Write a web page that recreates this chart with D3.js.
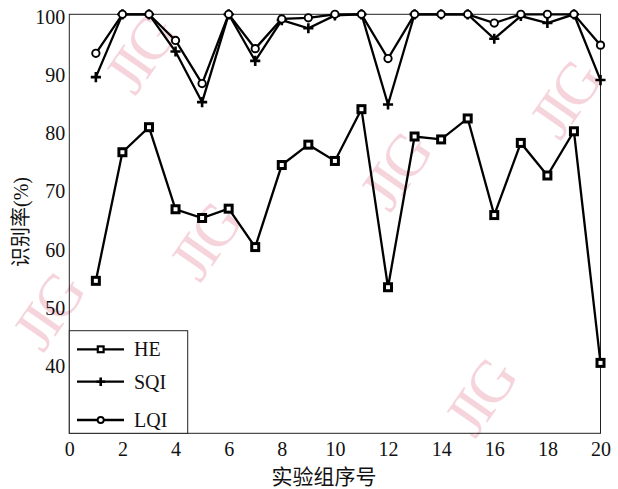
<!DOCTYPE html>
<html>
  <head>
    <meta charset="utf-8">
    <script src="https://d3js.org/d3.v7.min.js"></script>
    <title>识别率</title>
    <style>
      body { margin: 0; background: #fff; }
    </style>
  </head>
  <body>
    <div id="svg_id"></div>
  </body>
  <script>

    // DATA

    const groups = d3.range(1, 21);
    const he  = [54.2, 76.3, 80.6, 66.5, 65.0, 66.6, 60.0, 74.1, 77.6, 74.8,
                 83.7, 53.1, 79.0, 78.5, 82.1, 65.5, 77.9, 72.3, 79.9, 40.1];
    const sqi = [89.2, 100, 100, 93.6, 84.9, 100, 92.0, 99.0, 97.6, 99.8,
                 100, 84.5, 100, 100, 100, 95.8, 99.7, 98.5, 100, 88.7];
    const lqi = [93.3, 100, 100, 95.5, 88.1, 100, 94.1, 99.2, 99.4, 100,
                 100, 92.4, 100, 100, 100, 98.5, 100, 100, 100, 94.7];
    const seriesNames = ['HE', 'SQI', 'LQI'];
    const xTicks = d3.range(0, 21, 2);
    const yTicks = [40, 50, 60, 70, 80, 90, 100];

    // CONSTANTS

    const W = 618, H = 489;
    const margin = {top: 14.3, left: 69.3, bottom: 55.7, right: 17.5};
    const font = '"Liberation Serif", "Times New Roman", "Noto Sans CJK SC", serif';

    var svg = d3.select('div#svg_id')
	.append('svg')
	.attr('width', W)
	.attr('height', H)
	.style('font-family', font);

    var xscale = d3.scaleLinear()
	.domain([0, 20])
	.range([margin.left, W - margin.right]);

    var yscale = d3.scaleLinear()
	.domain([28, 100])
	.range([H - margin.bottom, margin.top]);

    // watermark
    var marks = [[140, 55], [395, 172], [205, 242], [565, 100], [48, 312], [480, 398]];
    svg.append('g').selectAll('text')
	.data(marks)
	.enter()
	.append('text')
	.attr('transform', d => 'translate(' + d[0] + ',' + d[1] + ') rotate(-55)')
	.attr('text-anchor', 'middle')
	.attr('dominant-baseline', 'central')
	.attr('font-size', 60)
	.attr('letter-spacing', -4)
	.attr('fill', '#f3c6d1')
	.attr('opacity', 0.75)
	.text('JIG');

    // frame
    svg.append('rect')
	.attr('x', margin.left)
	.attr('y', margin.top)
	.attr('width', xscale(20) - xscale(0))
	.attr('height', yscale(28) - yscale(100))
	.attr('fill', 'none')
	.attr('stroke', '#222')
	.attr('stroke-width', 1);

    // axes, labels only
    var xAxis = svg.append('g')
	.attr('transform', 'translate(0,' + (H - margin.bottom) + ')')
	.call(d3.axisBottom(xscale).tickValues(xTicks).tickSize(0).tickPadding(8));
    var yAxis = svg.append('g')
	.attr('transform', 'translate(' + margin.left + ',0)')
	.call(d3.axisLeft(yscale).tickValues(yTicks).tickSize(0).tickPadding(4));
    [xAxis, yAxis].forEach(function(a) {
	a.select('.domain').remove();
	a.selectAll('text')
	    .attr('font-family', font)
	    .attr('font-size', 20)
	    .attr('fill', '#111');
    });
    yAxis.selectAll('text').attr('dy', '0.45em');
    xAxis.selectAll('text').attr('dy', '0.75em');

    svg.append('text')
	.attr('x', 324)
	.attr('y', 484)
	.attr('text-anchor', 'middle')
	.attr('font-size', 21)
	.attr('fill', '#111')
	.text('实验组序号');

    svg.append('text')
	.attr('transform', 'translate(28,222) rotate(-90)')
	.attr('text-anchor', 'middle')
	.attr('font-size', 20)
	.attr('fill', '#111')
	.text('识别率(%)');

    // markers
    function drawMarker(g, type, x, y, s, sw) {
	if (type === 'HE') {
	    g.append('rect')
		.attr('x', x - s).attr('y', y - s)
		.attr('width', 2 * s).attr('height', 2 * s)
		.attr('fill', '#fff').attr('stroke', '#000').attr('stroke-width', sw);
	} else if (type === 'SQI') {
	    g.append('path')
		.attr('d', 'M' + (x - s * 1.45) + ',' + y + 'H' + (x + s * 1.45) +
		      'M' + x + ',' + (y - s * 1.45) + 'V' + (y + s * 1.45))
		.attr('stroke', '#000').attr('stroke-width', 2.6).attr('fill', 'none');
	} else {
	    g.append('circle')
		.attr('cx', x).attr('cy', y).attr('r', s * 1.05)
		.attr('fill', '#fff').attr('stroke', '#000').attr('stroke-width', 1.9);
	}
    }

    var line = d3.line()
	.x((d, i) => xscale(groups[i]))
	.y(d => yscale(d));

    var allSeries = [he, sqi, lqi];
    allSeries.forEach(function(vals, k) {
	var g = svg.append('g');
	g.append('path')
	    .datum(vals)
	    .attr('d', line)
	    .attr('fill', 'none')
	    .attr('stroke', '#000')
	    .attr('stroke-width', 2.3)
	    .attr('stroke-linejoin', 'miter');
	vals.forEach(function(v, i) {
	    drawMarker(g, seriesNames[k], xscale(groups[i]), yscale(v), 3.5, 3);
	});
    });

    // legend
    var legend = svg.append('g');
    legend.append('rect')
	.attr('x', margin.left)
	.attr('y', 330.7)
	.attr('width', 118.4)
	.attr('height', H - margin.bottom - 330.7)
	.attr('fill', '#fff')
	.attr('stroke', '#222')
	.attr('stroke-width', 1);
    var legendY = [349.3, 381.7, 420];
    seriesNames.forEach(function(name, k) {
	var y = legendY[k];
	legend.append('line')
	    .attr('x1', 77).attr('x2', 124)
	    .attr('y1', y).attr('y2', y)
	    .attr('stroke', '#000').attr('stroke-width', 2.3);
	drawMarker(legend, name, 100.7, y, 2.9, 2.2);
	legend.append('text')
	    .attr('x', 134)
	    .attr('y', y)
	    .attr('dy', '0.35em')
	    .attr('font-size', 20)
	    .attr('fill', '#111')
	    .text(name);
    });

  </script>
</html>
